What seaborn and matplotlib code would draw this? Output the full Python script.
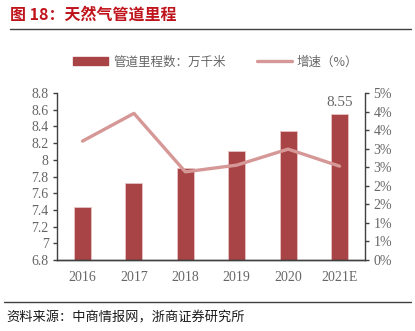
import matplotlib
matplotlib.use("Agg")
import matplotlib.pyplot as plt
import seaborn as sns
import pandas as pd
import numpy as np
from matplotlib.patches import Patch
from matplotlib.lines import Line2D
from matplotlib.ticker import FuncFormatter, FixedLocator

years = ["2016", "2017", "2018", "2019", "2020", "2021E"]
mileage = [7.43, 7.72, 7.90, 8.10, 8.34, 8.55]
growth = [3.56, 4.39, 2.64, 2.84, 3.32, 2.81]  # percent
left_ticks = [6.8, 7.0, 7.2, 7.4, 7.6, 7.8, 8.0, 8.2, 8.4, 8.6, 8.8]
left_labels = ["6.8", "7", "7.2", "7.4", "7.6", "7.8", "8", "8.2", "8.4", "8.6", "8.8"]

bar_name = "管道里程数：万千米"
line_name = "增速（%）"
title = "图 18：天然气管道里程"
source = "资料来源：中商情报网，浙商证券研究所"

sns.set_style("white")
plt.rcParams['font.family'] = ['Liberation Serif', 'Noto Sans CJK SC', 'DejaVu Sans']

BAR = "#A84446"
LINE = "#D69897"
GRAY = "#666666"
SPINE = "#404040"

df = pd.DataFrame({"year": years, "mileage": mileage, "growth": growth})

fig = plt.figure(figsize=(4.15, 3.31), dpi=100)
ax = fig.add_axes([0.137, 0.2145, 0.743, 0.5045])
sns.barplot(data=df, x="year", y="mileage", color=BAR, width=0.33,
            edgecolor="#E8C4C4", linewidth=0.6, saturation=1, ax=ax)
ax.set_ylim(6.8, 8.8)
ax.set_xlim(-0.5, 5.5)
ax.yaxis.set_major_locator(FixedLocator(left_ticks))
ax.set_yticklabels(left_labels)
ax.set_xlabel("")
ax.set_ylabel("")

ax2 = ax.twinx()
sns.lineplot(x=np.arange(len(years)), y=growth, color=LINE, linewidth=2.4,
             ax=ax2, legend=False)
ax2.set_ylim(0, 5)
rt = np.linspace(0, 5, 10)
ax2.yaxis.set_major_locator(FixedLocator(rt))
ax2.yaxis.set_major_formatter(FuncFormatter(lambda v, p: "%d%%" % int(np.floor(v + 0.5))))
ax2.set_xlim(-0.5, 5.5)

for a in (ax, ax2):
    a.spines["top"].set_visible(False)
    for s in ["left", "right", "bottom"]:
        a.spines[s].set_color(SPINE)
        a.spines[s].set_linewidth(1.0)
    a.tick_params(axis="both", colors=SPINE, labelcolor=GRAY, labelsize=10,
                  length=3, width=1, direction="out")
ax.tick_params(axis="x", length=0, pad=8)
ax.tick_params(axis="y", pad=3)
ax2.tick_params(axis="y", pad=3)
ax2.spines["left"].set_visible(False)
ax.spines["right"].set_visible(False)
for lab in ax.get_xticklabels() + ax.get_yticklabels() + ax2.get_yticklabels():
    lab.set_fontfamily(['Liberation Serif'])

ax.text(5, mileage[-1] + 0.06, "%.2f" % mileage[-1], ha="center", va="bottom",
        color=GRAY, fontsize=11, fontfamily=['Liberation Serif'])

handles = [Patch(facecolor=BAR, edgecolor=BAR),
           Line2D([0], [0], color=LINE, linewidth=2.4)]
leg = fig.legend(handles, [bar_name, line_name], loc="center",
                 bbox_to_anchor=(0.52, 0.813), ncol=2, frameon=False,
                 fontsize=9, handlelength=2.8, handleheight=0.5,
                 columnspacing=2.5, handletextpad=0.4)
for t in leg.get_texts():
    t.set_color(GRAY)
    t.set_fontfamily(['Noto Sans CJK SC', 'DejaVu Sans'])

fig.text(0.025, 0.955, title, color="#C0141C", fontsize=11.5, fontweight="bold",
         va="center", ha="left", fontfamily=['Noto Sans CJK SC', 'DejaVu Sans'])
fig.add_artist(Line2D([0.025, 0.99], [0.913, 0.913], color="#404040", linewidth=1.0,
                      transform=fig.transFigure))
fig.add_artist(Line2D([0.01, 0.99], [0.087, 0.087], color="#404040", linewidth=1.0,
                      transform=fig.transFigure))
fig.text(0.015, 0.04, source, color="#1a1a1a", fontsize=9.5, va="center", ha="left",
         fontfamily=['Noto Sans CJK SC', 'DejaVu Sans'])

fig.savefig("out.png", dpi=100)
